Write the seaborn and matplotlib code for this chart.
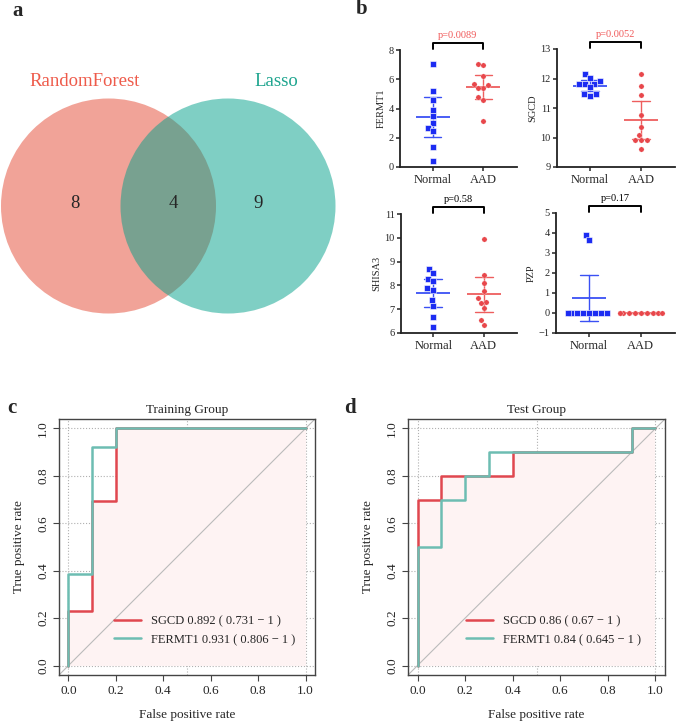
import numpy as np
import pandas as pd
import matplotlib
matplotlib.use("Agg")
import matplotlib.pyplot as plt
import matplotlib.transforms as mtransforms
from matplotlib.patches import Circle
import seaborn as sns

sns.set_theme(style="ticks")
plt.rcParams["font.family"] = ["Liberation Serif", "DejaVu Serif"]
plt.rcParams["axes.axisbelow"] = True

W, H = 676, 721

# ---- panel a: venn ----
venn_names = ["RandomForest", "Lasso"]
venn_counts = [8, 4, 9]  # RF only, shared, Lasso only

# ---- panel b: expression per group ----
groups = ["Normal", "AAD"]
fermt1_normal = [7.06, 5.23, 4.60, 3.90, 3.50, 3.04, 2.70, 2.45, 1.35, 0.43]
fermt1_aad = [7.06, 6.97, 6.22, 5.58, 5.67, 5.37, 5.37, 4.78, 4.60, 3.13]
sgcd_normal = [12.15, 12.03, 11.83, 11.90, 11.83, 11.83, 11.70, 11.40, 11.46, 11.46]
sgcd_aad = [12.15, 11.74, 11.45, 10.75, 10.35, 10.08, 9.90, 9.92, 9.90, 9.62]
shisa3_normal = [8.69, 8.52, 8.27, 8.18, 7.88, 7.81, 7.39, 7.15, 6.69, 6.24]
shisa3_aad = [9.96, 8.45, 8.10, 7.78, 7.47, 7.32, 7.26, 7.06, 6.55, 6.34]
pzp_normal = [3.88, 3.63, 0, 0, 0, 0, 0, 0, 0, 0]
pzp_aad = [0, 0, 0, 0, 0, 0, 0, 0, 0, 0]
p_labels = ["p=0.0089", "p=0.0052", "p=0.58", "p=0.17"]

# ---- panels c/d: ROC vertices (fpr, tpr) ----
train_sgcd_fpr = [0, 0, 0.1, 0.1, 0.2, 0.2, 1.0]
train_sgcd_tpr = [0, 0.231, 0.231, 0.692, 0.692, 1.0, 1.0]
train_fermt1_fpr = [0, 0, 0.1, 0.1, 0.2, 0.2, 1.0]
train_fermt1_tpr = [0, 0.385, 0.385, 0.923, 0.923, 1.0, 1.0]
test_sgcd_fpr = [0, 0, 0.1, 0.1, 0.4, 0.4, 0.9, 0.9, 1.0]
test_sgcd_tpr = [0, 0.7, 0.7, 0.8, 0.8, 0.9, 0.9, 1.0, 1.0]
test_fermt1_fpr = [0, 0, 0.1, 0.1, 0.2, 0.2, 0.3, 0.3, 0.9, 0.9, 1.0]
test_fermt1_tpr = [0, 0.5, 0.5, 0.7, 0.7, 0.8, 0.8, 0.9, 0.9, 1.0, 1.0]
train_labels = ["SGCD 0.892 ( 0.731 \u2212 1 )", "FERMT1 0.931 ( 0.806 \u2212 1 )"]
test_labels = ["SGCD 0.86 ( 0.67 \u2212 1 )", "FERMT1 0.84 ( 0.645 \u2212 1 )"]

BLUE, RED = "#1C2CF2", "#E8474B"
BLUE_ERR, RED_ERR = "#3A50F4", "#EE5E5E"
ROC_RED, ROC_TEAL = "#E0474F", "#6DBDB2"


def px_axes(fig, left, top, width, height):
    return fig.add_axes([left / W, 1 - (top + height) / H, width / W, height / H])


fig = plt.figure(figsize=(W / 100, H / 100), dpi=100)

# ---------------- a ----------------
ax = px_axes(fig, 0, 0, 370, 340)
ax.set_xlim(0, 370)
ax.set_ylim(340, 0)
ax.axis("off")
c1, c2, cy, r = 108.5, 228, 206, 107.5
ax.add_patch(Circle((c1, cy), r, facecolor="#F1A398", edgecolor="none"))
ax.add_patch(Circle((c2, cy), r, facecolor="#00A08A", alpha=0.5, edgecolor="none"))
ax.text(c1 - 24, 82, venn_names[0], color="#EE5B4B", fontsize=13.5, ha="center", va="center")
ax.text(c2 + 48, 82, venn_names[1], color="#1FA58F", fontsize=13.5, ha="center", va="center")
for xpos, n in zip([c1 - 34, (c1 + c2) / 2 + 5, c2 + 30], venn_counts):
    ax.text(xpos, cy - 3, str(n), fontsize=13.5, ha="center", va="center")

# ---------------- b ----------------
genes = [
    ("FERMT1", fermt1_normal, fermt1_aad, (0, 8), [0, 2, 4, 6, 8], (400, 50, 117, 117)),
    ("SGCD", sgcd_normal, sgcd_aad, (9, 13), [9, 10, 11, 12, 13], (557, 49, 118, 118)),
    ("SHISA3", shisa3_normal, shisa3_aad, (6, 11), [6, 7, 8, 9, 10, 11], (401, 214, 116, 119)),
    ("PZP", pzp_normal, pzp_aad, (-1, 5), [-1, 0, 1, 2, 3, 4, 5], (556, 213, 119, 120)),
]
for (gene, normal, aad, ylim, yticks, box), ptxt in zip(genes, p_labels):
    ax = px_axes(fig, *box)
    df = pd.DataFrame({"group": ["Normal"] * len(normal) + ["AAD"] * len(aad),
                       "value": normal + aad})
    # thin white edge keeps a small gap between neighbouring points
    sns.swarmplot(data=df[df.group == "Normal"], x="group", y="value", order=groups,
                  color=BLUE, marker="s", size=3.8, linewidth=0.4, edgecolor="white", ax=ax)
    sns.swarmplot(data=df[df.group == "AAD"], x="group", y="value", order=groups,
                  color=RED, marker="o", size=3.8, linewidth=0.2, edgecolor="white", ax=ax)
    sns.pointplot(data=df, x="group", y="value", hue="group", order=groups, hue_order=groups,
                  palette={"Normal": BLUE_ERR, "AAD": RED_ERR}, errorbar=("se", 2.262),
                  markers="_", markersize=25, markeredgewidth=1.3, linestyles="none",
                  capsize=0.35, err_kws={"linewidth": 1.0}, legend=False, ax=ax)
    ax.set_xlim(-0.64, 1.66)
    ax.set_ylim(*ylim)
    ax.set_yticks(yticks)
    ax.set_xlabel("")
    ax.set_ylabel(gene, fontsize=7.5, labelpad=2)
    ax.tick_params(axis="x", labelsize=9, length=3, width=1.1, pad=2)
    ax.tick_params(axis="y", labelsize=7.5, length=3, width=1.1, pad=1.5)
    for s in ["left", "bottom"]:
        ax.spines[s].set_linewidth(1.3)
        ax.spines[s].set_color("#222222")
    sns.despine(ax=ax)
    trans = mtransforms.blended_transform_factory(ax.transData, ax.transAxes)
    ax.plot([0, 0, 1, 1], [1.012, 1.06, 1.06, 1.012], transform=trans, color="black",
            lw=1.4, clip_on=False)
    sig = float(ptxt.split("=")[1]) < 0.05
    ax.text(0.5, 1.085, ptxt, transform=trans, ha="center", va="bottom", fontsize=7.5,
            color="#F05A5A" if sig else "black")

# ---------------- c / d ----------------
roc_panels = [
    ("Training Group", (59, 419, 256, 256), train_sgcd_fpr, train_sgcd_tpr,
     train_fermt1_fpr, train_fermt1_tpr, train_labels, (0.17, 0.07)),
    ("Test Group", (408, 419, 257, 256), test_sgcd_fpr, test_sgcd_tpr,
     test_fermt1_fpr, test_fermt1_tpr, test_labels, (0.18, 0.07)),
]
for title, box, sf, st, ff, ft, labels, anchor in roc_panels:
    ax = px_axes(fig, *box)
    ax.set_xlim(-0.04, 1.04)
    ax.set_ylim(-0.04, 1.04)
    ticks = [0.0, 0.2, 0.4, 0.6, 0.8, 1.0]
    for v in [0.0, 0.5, 1.0]:
        ax.axvline(v, color="#B0B0B0", lw=0.8, ls=":", zorder=0.5)
    for v in ticks:
        ax.axhline(v, color="#B0B0B0", lw=0.8, ls=":", zorder=0.5)
    ax.fill_between(sf, st, 0, color="#FEF3F3", lw=0, zorder=1)
    ax.axline((0, 0), (1, 1), color="#BBBBBB", lw=0.8, zorder=1.2)
    sns.lineplot(x=sf, y=st, sort=False, estimator=None, color=ROC_RED, lw=1.8,
                 label=labels[0], ax=ax, zorder=3)
    sns.lineplot(x=ff, y=ft, sort=False, estimator=None, color=ROC_TEAL, lw=1.8,
                 label=labels[1], ax=ax, zorder=3)
    ax.set_xticks(ticks)
    ax.set_yticks(ticks)
    ax.set_xticklabels([f"{t:.1f}" for t in ticks])
    ax.set_yticklabels([f"{t:.1f}" for t in ticks], rotation=90, va="center")
    ax.tick_params(labelsize=9.5, length=4, width=0.8, color="#444444", pad=3)
    for s in ax.spines.values():
        s.set_color("#444444")
        s.set_linewidth(1.0)
    ax.set_xlabel("False positive rate", fontsize=9.5, labelpad=9)
    ax.set_ylabel("True positive rate", fontsize=9.5, labelpad=9)
    ax.set_title(title, fontsize=9.5, pad=4)
    ax.legend(loc="lower left", bbox_to_anchor=anchor, frameon=False, fontsize=9,
              handlelength=2.2, labelspacing=0.5)

# panel letters
for letter, (x, y) in zip("abcd", [(18, 11), (362, 9), (12, 408), (350, 408)]):
    fig.text(x / W, 1 - y / H, letter, fontsize=15, fontweight="bold", ha="center", va="center")

fig.savefig("out.png", dpi=100)
